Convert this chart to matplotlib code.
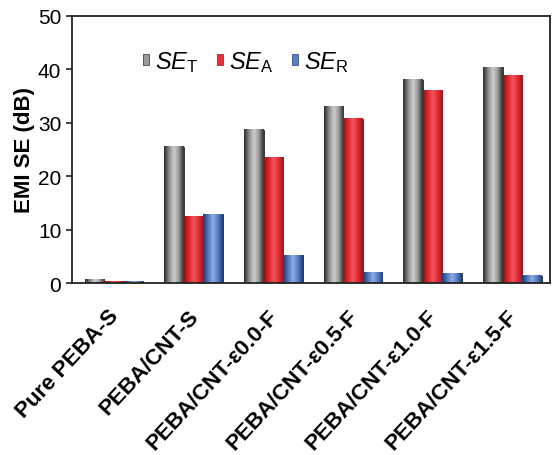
import numpy as np
import matplotlib
matplotlib.use("Agg")
import matplotlib.pyplot as plt
from matplotlib.colors import LinearSegmentedColormap
from matplotlib.patches import Patch

plt.rcParams['font.family'] = ['Liberation Sans', 'DejaVu Sans']
plt.rcParams['mathtext.fontset'] = 'custom'
plt.rcParams['mathtext.rm'] = 'Liberation Sans'
plt.rcParams['mathtext.it'] = 'Liberation Sans:italic'

samples = ['Pure PEBA-S', 'PEBA/CNT-S', 'PEBA/CNT-ε0.0-F',
           'PEBA/CNT-ε0.5-F', 'PEBA/CNT-ε1.0-F', 'PEBA/CNT-ε1.5-F']
se_total = [0.6, 25.5, 28.7, 33.0, 38.0, 40.4]
se_abs = [0.3, 12.4, 23.4, 30.7, 36.1, 38.9]
se_refl = [0.3, 12.9, 5.2, 2.0, 1.8, 1.4]

# shading for each series: edge, mid, highlight
shades = {
    'gray': ['#2a2a2a', '#8a8a8a', '#cfcfcf', '#9a9a9a', '#2e2e2e'],
    'red': ['#8e1418', '#e0262e', '#f2555b', '#e22a32', '#9a161b'],
    'blue': ['#1c3a78', '#4f74bd', '#8eaee0', '#5a7fc6', '#20407f'],
}
flat = {'gray': '#9a9a9a', 'red': '#e8313a', 'blue': '#5b7fc4'}

fig = plt.figure(figsize=(5.52, 4.56), dpi=100)
ax = fig.add_axes([0.130, 0.377, 0.866, 0.586])

x = np.arange(len(samples))
width = 0.245
series = [(se_total, 'gray', -width), (se_abs, 'red', 0.0), (se_refl, 'blue', width)]

grad = np.linspace(0, 1, 64).reshape(1, -1)
for vals, key, off in series:
    bars = ax.bar(x + off + 0.03, vals, width, color=flat[key],
                  edgecolor='#222222', linewidth=0.6, zorder=2)
    cmap = LinearSegmentedColormap.from_list(key, shades[key])
    for b in bars:
        bx, by = b.get_x(), b.get_y()
        bw, bh = b.get_width(), b.get_height()
        ax.imshow(grad, extent=[bx, bx + bw, by, by + bh], aspect='auto',
                  cmap=cmap, zorder=2.5, interpolation='bicubic')

ax.set_xlim(-0.5, 5.5)
ax.set_ylim(0, 50)
ax.set_yticks([0, 10, 20, 30, 40, 50])
ax.set_xticks(x + 0.05)
ax.set_xticklabels(samples, rotation=47, ha='right', va='center',
                   rotation_mode='anchor', fontsize=16, fontweight='bold')
ax.tick_params(axis='x', length=0, pad=21)
ax.tick_params(axis='y', labelsize=15, length=4, width=1.2, color='#222222')
ax.set_ylabel('EMI SE (dB)', fontsize=16, fontweight='bold', labelpad=2)
for s in ax.spines.values():
    s.set_color('#222222')
    s.set_linewidth(1.3)

handles = [Patch(facecolor=flat[k], edgecolor=shades[k][0], linewidth=0.5)
           for k in ['gray', 'red', 'blue']]
labels = [r'$\mathit{SE}_\mathrm{T}$', r'$\mathit{SE}_\mathrm{A}$', r'$\mathit{SE}_\mathrm{R}$']
ax.legend(handles, labels, ncol=3, frameon=False, fontsize=17,
          loc='center left', bbox_to_anchor=(0.115, 0.83),
          handlelength=0.25, handleheight=0.35, handletextpad=0.25,
          columnspacing=0.8, borderpad=0.2)

fig.savefig('out.png', dpi=100)
